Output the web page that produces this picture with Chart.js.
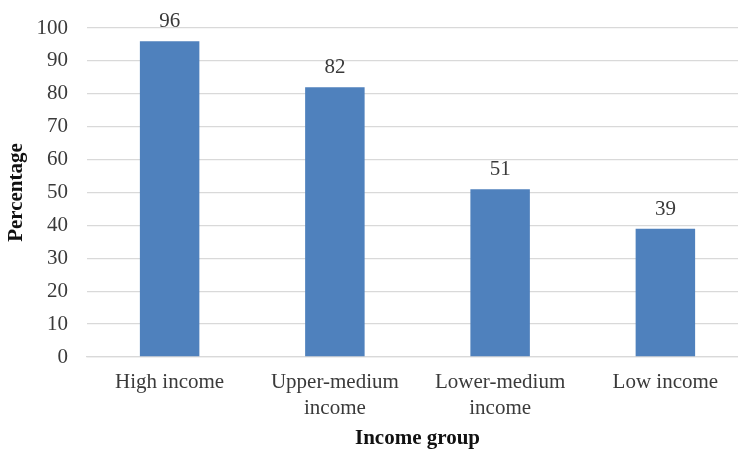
<!DOCTYPE html>
<html>
<head>
<meta charset="utf-8">
<script src="https://cdn.jsdelivr.net/npm/chart.js@4/dist/chart.umd.min.js"></script>
<style>
  html, body { margin: 0; padding: 0; background: #fff; overflow: hidden; }
  #wrap { width: 748px; height: 451px; }
</style>
</head>
<body>
<div id="wrap"><canvas id="chart"></canvas></div>
<script>
  // -- Data ------------------------------------------------------------
  const categories = [
    "High income",
    ["Upper-medium", "income"],
    ["Lower-medium", "income"],
    "Low income",
  ];
  const percentages = [96, 82, 51, 39];
  const yTicks = { min: 0, max: 100, step: 10 };

  const TEXT = "#3a3a3a";
  const FONT = "'Liberation Serif', 'Times New Roman', serif";

  // Draw the value above each bar, using the bar element positions
  const valueLabels = {
    id: "valueLabels",
    afterDatasetsDraw(chart) {
      const { ctx } = chart;
      const meta = chart.getDatasetMeta(0);
      ctx.save();
      ctx.font = `21px ${FONT}`;
      ctx.fillStyle = TEXT;
      ctx.textAlign = "center";
      ctx.textBaseline = "bottom";
      meta.data.forEach((bar, i) => {
        ctx.fillText(String(percentages[i]), bar.x, bar.y - 9);
      });
      ctx.restore();
    },
  };

  new Chart(document.getElementById("chart"), {
    type: "bar",
    data: {
      labels: categories,
      datasets: [
        {
          data: percentages,
          backgroundColor: "#4F81BD",
          barPercentage: 0.36,
          categoryPercentage: 1,
        },
      ],
    },
    options: {
      animation: false,
      responsive: true,
      maintainAspectRatio: false,
      layout: { padding: { top: 28, right: 0, left: 4, bottom: 0 } },
      scales: {
        y: {
          min: yTicks.min,
          max: yTicks.max,
          afterFit: (scale) => {
            scale.width = 83;
            scale.paddingTop = 0;
          },
          ticks: {
            stepSize: yTicks.step,
            padding: 19,
            color: TEXT,
            font: { family: FONT, size: 21, lineHeight: 1.0 },
          },
          grid: { color: "#d9d9d9", drawTicks: false, lineWidth: 1.3 },
          border: { display: false },
          title: {
            display: true,
            text: "Percentage",
            color: "#111",
            font: { family: FONT, size: 21, weight: "bold" },
            padding: { top: 0, bottom: 4 },
          },
        },
        x: {
          afterFit: (scale) => { scale.height = 94; },
          ticks: {
            color: TEXT,
            padding: 12,
            font: { family: FONT, size: 21, lineHeight: 1.24 },
            maxRotation: 0,
          },
          grid: { display: false, drawTicks: false },
          border: { color: "#d9d9d9", width: 1.3 },
          title: {
            display: true,
            text: "Income group",
            color: "#111",
            font: { family: FONT, size: 21, weight: "bold" },
            padding: { top: 0, bottom: 0 },
          },
        },
      },
      plugins: {
        legend: { display: false },
        tooltip: { enabled: false },
      },
    },
    plugins: [valueLabels],
  });
</script>
</body>
</html>
